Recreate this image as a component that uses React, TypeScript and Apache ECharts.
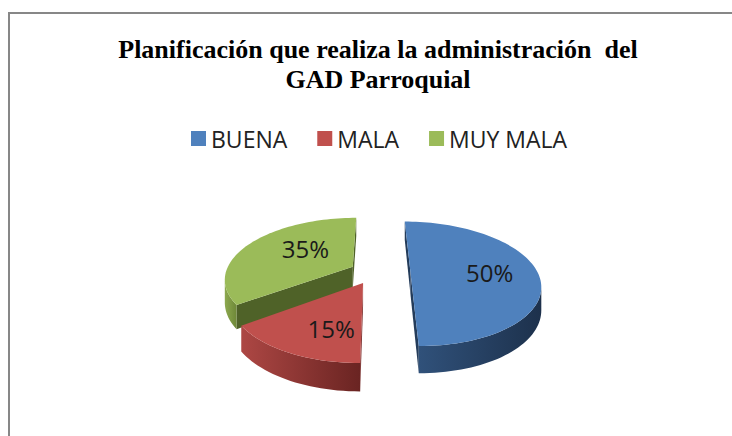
import React, { useEffect, useRef } from 'react';
import * as echarts from 'echarts';

const titleText = 'Planificación que realiza la administración  del\nGAD Parroquial';
const categories = ['BUENA', 'MALA', 'MUY MALA'];
const values = [50, 15, 35];
const topColors = ['#4F81BD', '#C0504D', '#9BBB59'];
const sideColors = [['#30517A', '#1D314C'], ['#AD4744', '#6A2422'], ['#8DA94F', '#6E8838']];
const cutColors = ['#243C5A', '#7A2C2A', '#4F6228'];
const explode = [0.279, 0.2, 0.2];
const depthOrder = [2, 3, 1];
const labelFrac = [0.6, 0.62, 0.45];
const labelShift = [[3, 0], [11, 6], [0, -7]];

const CX = 375, CY = 272, RX = 127, RY = 60, P = 0.19, H = 22;

function proj(u: number, v: number, down: boolean): number[] {
  const s = 1 / (1 - P * v);
  return [CX + RX * u * s, CY + RY * v * s + (down ? H * s : 0)];
}
function area(pts: number[][]): number {
  let a = 0;
  for (let i = 0; i < pts.length; i++) {
    const p1 = pts[i], p2 = pts[(i + 1) % pts.length];
    a += p1[0] * p2[1] - p2[0] * p1[1];
  }
  return a / 2;
}

export default function App() {
  const ref = useRef<HTMLDivElement>(null);
  useEffect(() => {
    if (!ref.current) return;
    const chart = echarts.init(ref.current, null, { renderer: 'svg' });
    const total = values.reduce((s, v) => s + v, 0);
    const renderItem = (params: any, api: any) => {
      const i = params.dataIndex;
      let before = 0;
      for (let k = 0; k < i; k++) before += values[k];
      const val = api.value(0);
      const a0 = (before / total) * Math.PI * 2;
      const a1 = ((before + val) / total) * Math.PI * 2;
      const m = (a0 + a1) / 2;
      const ox = explode[i] * Math.sin(m), oy = -explode[i] * Math.cos(m);
      const steps = Math.max(2, Math.ceil((a1 - a0) / (Math.PI / 90)));
      const ang: number[] = [];
      for (let k = 0; k <= steps; k++) ang.push(a0 + ((a1 - a0) * k) / steps);
      const rimT = ang.map((t) => proj(ox + Math.sin(t), oy - Math.cos(t), false));
      const rimB = ang.map((t) => proj(ox + Math.sin(t), oy - Math.cos(t), true));
      const cT = proj(ox, oy, false), cB = proj(ox, oy, true);
      const base = depthOrder[i] * 10;
      const children: any[] = [];
      const poly = (pts: number[][], fill: any, z2: number) => ({
        type: 'polygon', z2, shape: { points: pts }, style: { fill, stroke: null },
      });
      const f0 = [cT, rimT[0], rimB[0], cB];
      if (area(f0) < -0.5) children.push(poly(f0, cutColors[i], base + 1));
      const f1 = [rimT[steps], cT, cB, rimB[steps]];
      if (area(f1) < -0.5) children.push(poly(f1, cutColors[i], base + 1));
      let run: number[] = [];
      const flush = () => {
        if (run.length > 1) {
          const pts = [...run.map((k) => rimT[k]), ...run.slice().reverse().map((k) => rimB[k])];
          children.push(poly(pts, {
            type: 'linear', x: 0, y: 0, x2: 1, y2: 0,
            colorStops: [{ offset: 0, color: sideColors[i][0] }, { offset: 1, color: sideColors[i][1] }],
          }, base + 2));
        }
        run = [];
      };
      for (let k = 0; k < steps; k++) {
        const vis = area([rimT[k], rimT[k + 1], rimB[k + 1], rimB[k]]) < 0;
        if (vis) {
          if (!run.length) run.push(k);
          run.push(k + 1);
        } else flush();
      }
      flush();
      children.push(poly([cT, ...rimT], topColors[i], base + 5));
      const f = labelFrac[i];
      const lp = proj(ox + f * Math.sin(m), oy - f * Math.cos(m), false);
      children.push({
        type: 'text', z2: base + 6,
        style: {
          text: Math.round((val / total) * 100) + '%', x: lp[0] + labelShift[i][0], y: lp[1] + labelShift[i][1],
          align: 'center', verticalAlign: 'middle', fill: '#1a1a1a',
          fontSize: 24, fontFamily: '"Open Sans"',
        },
      });
      return { type: 'group', children };
    };
    chart.setOption({
      animation: false,
      backgroundColor: '#ffffff',
      title: {
        text: titleText, left: 378, top: 34, textAlign: 'center', padding: 0,
        textStyle: { fontFamily: '"Liberation Serif"', fontWeight: 'bold', fontSize: 26, lineHeight: 30, color: '#000' },
      },
      legend: {
        data: categories, left: 191, top: 127, padding: 0, icon: 'rect', itemWidth: 15, itemHeight: 15, itemGap: 30,
        selectedMode: false,
        textStyle: { fontFamily: '"Open Sans"', fontSize: 23, color: '#222' },
      },
      graphic: [{
        type: 'rect', shape: { x: 9, y: 13, width: 780, height: 470 },
        style: { fill: 'none', stroke: '#878787', lineWidth: 2 }, silent: true,
      }],
      series: [
        {
          type: 'pie', radius: 0, center: [-50, -50], silent: true,
          label: { show: false }, labelLine: { show: false },
          data: categories.map((n, i) => ({ name: n, value: values[i], itemStyle: { color: topColors[i] } })),
        },
        {
          type: 'custom', name: 'pie3d', coordinateSystem: 'none', silent: true,
          renderItem,
          data: categories.map((n, i) => ({ name: n, value: [values[i]] })),
        },
      ],
    });
    return () => chart.dispose();
  }, []);
  return <div ref={ref} style={{ position: 'absolute', left: 0, top: 0, width: 732, height: 436 }} />;
}
